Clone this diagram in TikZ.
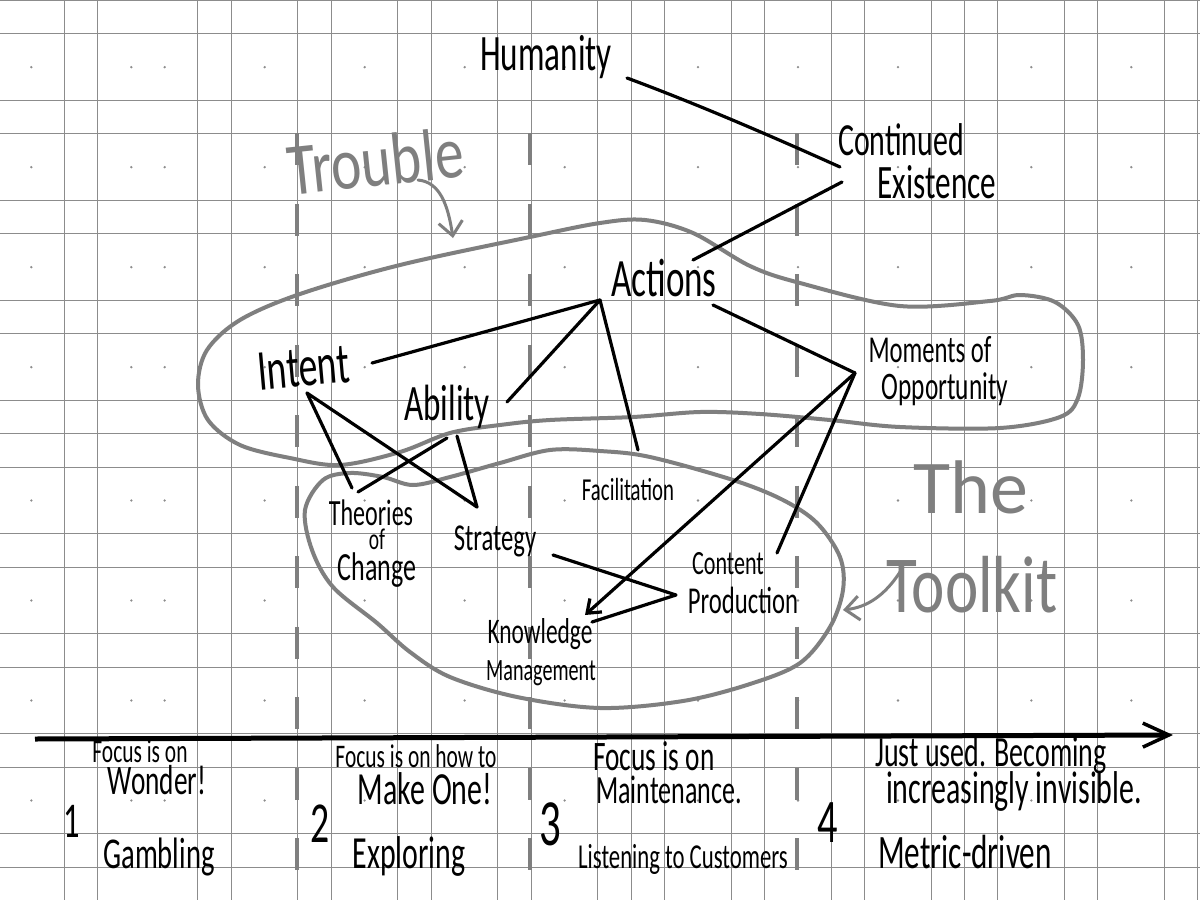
\documentclass[tikz,border=0pt]{standalone}
\usepackage{fontspec}
\usepackage{graphicx}
\newfontfamily\hand{Carlito}[FakeStretch=0.65]
\newfontfamily\handwide{Carlito}[FakeStretch=0.78]
\newfontfamily\handfull{Carlito}
\usetikzlibrary{arrows.meta}
\definecolor{ink}{HTML}{000000}
\definecolor{pencil}{HTML}{7F7F7F}
\definecolor{gridc}{HTML}{8C8C8C}

\begin{document}
\begin{tikzpicture}[x=1pt,y=-1pt,
  txt/.style={inner sep=0pt, anchor=base, text=ink},
  lbl/.style={txt, font=\hand\fontsize{#1}{#1}\selectfont},
  glbl/.style={txt, text=pencil, font=\handwide\fontsize{#1}{#1}\selectfont},
  gfull/.style={txt, text=pencil, font=\handfull\fontsize{#1}{#1}\selectfont},
  link/.style={draw=ink, line width=3.2pt, line cap=round, line join=round},
  outline/.style={draw=pencil, line width=4pt, line cap=round, line join=round},
  pointer/.style={draw=pencil, line width=3pt, line cap=round, -{Straight Barb[length=14pt,width=24pt]}},
  divider/.style={draw=pencil, line width=3.5pt, dash pattern=on 32pt off 38.5pt},
  barb/.style={-{Straight Barb[length=12pt,width=18pt]}},
]
\useasboundingbox (0,0) rectangle (1200,900);
\fill[white] (0,0) rectangle (1200,900);

% graph paper
\foreach \k in {2,3,6,7,9,10,12,13,15,16,18,19,20,22,23,25,26,28,29,30,32,33,35,36}
  \draw[gridc, line width=1pt] ({33.333*\k-2},0) -- ({33.333*\k-2},900);
\foreach \k in {0,1,3,4,6,7,9,10,12,13,14,16,17,19,20,22,23,25,26}
  \draw[gridc, line width=1pt] (0,{33.333*\k+0.5}) -- (1200,{33.333*\k+0.5});
\foreach \i in {1,4,5,8,11,14,17,21,24,27,31,34}
  \foreach \j in {2,5,8,11,15,18,21,24}
    \fill[gridc] ({33.333*\i-2},{33.333*\j+0.5}) circle (1.3);

% stage dividers
\coordinate (d1t) at (297,133); \coordinate (d1b) at (297,872);
\coordinate (d2t) at (530,133); \coordinate (d2b) at (530,872);
\coordinate (d3t) at (797,133); \coordinate (d3b) at (797,872);
\draw[divider] (d1t) -- (d1b);
\draw[divider] (d2t) -- (d2b);
\draw[divider] (d3t) -- (d3b);

% trouble zone
\draw[outline] plot[smooth cycle, tension=0.55] coordinates {
  (300,294) (400,265) (530,237) (600,223) (645,220) (693,233) (750,266)
  (800,283) (900,306) (990,301) (1020,295) (1055,302) (1078,325) (1083,360)
  (1078,398) (1060,417) (1000,428) (900,427) (830,420) (760,414) (700,412)
  (633,417) (550,420) (500,425) (450,433) (400,452) (340,465) (290,458)
  (240,445) (208,420) (198,385) (207,350) (240,320)};

% toolkit zone
\draw[outline] plot[smooth cycle, tension=0.55] coordinates {
  (323,480) (350,473) (383,477) (413,485) (450,477) (500,463) (550,450)
  (600,451) (650,457) (733,480) (783,500) (817,523) (840,557) (843,590)
  (830,627) (800,663) (750,684) (683,701) (600,708) (517,697) (450,677)
  (410,652) (377,623) (333,587) (312,550) (305,510)};

% timeline
\coordinate (axl) at (35,739);
\coordinate (axr) at (1173,735);
\draw[draw=ink, line width=5pt, -{Straight Barb[length=26pt,width=24pt,line width=3.5pt]}] (axl) -- (axr);

% labels
\node[lbl=51] (humanity) at (546,70) {Humanity};
\node[lbl=46] (continued) at (901,155) {Continued};
\node[lbl=48] (existence) at (937,198) {Existence};
\node[glbl=74, rotate=6] (trouble) at (378,186) {Trouble};
\node[lbl=54] (actions) at (664,296) {Actions};
\node[lbl=58, rotate=5] (intent) at (305,386) {Intent};
\node[lbl=51] (ability) at (447,420) {Ability};
\node[lbl=32] (facilitation) at (628,500) {Facilitation};
\node[lbl=37] (theories) at (371,525) {Theories};
\node[lbl=30] (of) at (377,549) {of};
\node[lbl=40] (change) at (377,580) {Change};
\node[lbl=38] (strategy) at (495,550) {Strategy};
\node[lbl=34] (content) at (728,574) {Content};
\node[lbl=38] (production) at (743,613) {Production};
\node[lbl=36] (knowledge) at (540,643) {Knowledge};
\node[lbl=31] (management) at (541,680) {Management};
\node[lbl=38] (moments) at (930,362) {Moments of};
\node[lbl=39] (opportunity) at (945,399) {Opportunity};
\node[gfull=76] (the) at (971,513) {The};
\node[glbl=81] (toolkit) at (972,612) {Toolkit};

\node[lbl=33] (f1) at (140,762) {Focus is on};
\node[lbl=42] (wonder) at (157,794) {Wonder!};
\node[lbl=50] (n1) at (72,837) {1};
\node[lbl=44] (gambling) at (159,868) {Gambling};
\node[lbl=58] (n2) at (320,842) {2};
\node[lbl=33] (f2) at (416,767) {Focus is on how to};
\node[lbl=46] (makeone) at (425,804) {Make One!};
\node[lbl=46] (exploring) at (409,868) {Exploring};
\node[lbl=66] (n3) at (550,845) {3};
\node[lbl=42] (f3) at (654,770) {Focus is on};
\node[lbl=40] (maint) at (669,803) {Maintenance.};
\node[lbl=35] (listen) at (683,868) {Listening to Customers};
\node[lbl=62] (n4) at (828,842) {4};
\node[lbl=43] (just) at (991,766) {Just used. Becoming};
\node[lbl=46] (incr) at (1014,803) {increasingly invisible.};
\node[lbl=48] (metric) at (965,868) {Metric-driven};

% connector ends
\coordinate (hum-e) at (627,78);
\coordinate (cont-w1) at (840,167);
\coordinate (cont-w2) at (842,182);
\coordinate (act-ne) at (693,260);
\coordinate (act-s) at (600,300);
\coordinate (act-se) at (713,305);
\coordinate (int-e) at (372,363);
\coordinate (int-s) at (307,393);
\coordinate (abl-e) at (507,402);
\coordinate (abl-s1) at (447,438);
\coordinate (abl-s2) at (457,436);
\coordinate (fac-n) at (638,450);
\coordinate (mom-w) at (855,373);
\coordinate (thc-n) at (352,488);
\coordinate (thc-ne) at (358,492);
\coordinate (str-n) at (477,507);
\coordinate (str-e) at (553,555);
\coordinate (cp-w) at (676,595);
\coordinate (cp-n) at (777,553);
\coordinate (km-ne) at (592,622);
\coordinate (km-n) at (585,615);

\draw[link] (hum-e) .. controls (700,105) and (780,140) .. (cont-w1);
\draw[link] (act-ne) -- (cont-w2);
\draw[link] (act-s) -- (int-e);
\draw[link] (act-s) -- (abl-e);
\draw[link] (act-s) -- (fac-n);
\draw[link] (act-se) -- (mom-w);
\draw[link] (int-s) -- (thc-n);
\draw[link] (int-s) -- (str-n);
\draw[link] (abl-s1) -- (thc-ne);
\draw[link] (abl-s2) -- (str-n);
\draw[link] (str-e) -- (cp-w) -- (km-ne);
\draw[link] (mom-w) -- (cp-n);
\draw[link, barb] (mom-w) -- (km-n);

% pencil pointers
\coordinate (tr-s) at (418,180);
\coordinate (tr-e) at (453,238);
\coordinate (tk-s) at (900,572);
\coordinate (tk-e) at (843,610);
\draw[pointer] (tr-s) .. controls (440,182) and (448,205) .. (tr-e);
\draw[pointer] (tk-s) .. controls (885,595) and (868,607) .. (tk-e);
\end{tikzpicture}
\end{document}
